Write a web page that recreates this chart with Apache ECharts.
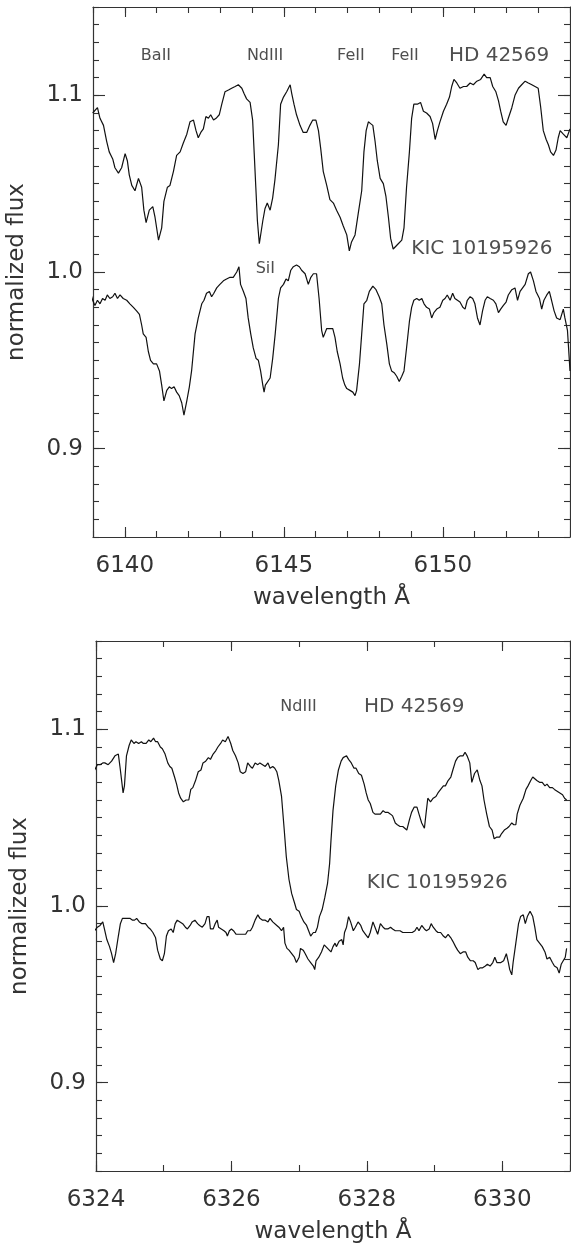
<!DOCTYPE html>
<html>
<head>
<meta charset="utf-8">
<script src="https://cdn.jsdelivr.net/npm/echarts@6/dist/echarts.min.js"></script>
<style>
html,body{margin:0;padding:0;background:#fff;}
#c{width:571px;height:1244px;}
</style>
</head>
<body>
<div id="c"></div>
<script>
// ---------------- DATA ----------------
// Panel 1 (6139-6154 A)
const topHD = [[6138.99,1.090],[6139.14,1.093],[6139.22,1.087],[6139.33,1.083],[6139.43,1.074],[6139.51,1.068],[6139.62,1.064],[6139.69,1.059],[6139.80,1.056],[6139.90,1.059],[6140.01,1.067],[6140.08,1.063],[6140.14,1.055],[6140.22,1.049],[6140.32,1.046],[6140.43,1.053],[6140.48,1.054],[6140.53,1.048],[6140.60,1.035],[6140.67,1.028],[6140.77,1.035],[6140.88,1.037],[6140.95,1.031],[6141.06,1.018],[6141.11,1.017],[6141.16,1.025],[6141.23,1.040],[6141.34,1.048],[6141.42,1.049],[6141.53,1.057],[6141.63,1.066],[6141.74,1.068],[6141.84,1.073],[6141.95,1.078],[6142.05,1.085],[6142.16,1.086],[6142.24,1.080],[6142.31,1.076],[6142.39,1.079],[6142.47,1.081],[6142.55,1.088],[6142.63,1.087],[6142.70,1.089],[6142.79,1.086],[6142.87,1.087],[6142.97,1.089],[6143.05,1.095],[6143.15,1.102],[6143.26,1.103],[6143.36,1.104],[6143.47,1.105],[6143.57,1.106],[6143.68,1.104],[6143.75,1.101],[6143.83,1.098],[6143.94,1.096],[6144.02,1.086],[6144.07,1.067],[6144.12,1.048],[6144.17,1.029],[6144.23,1.016],[6144.27,1.015],[6144.34,1.029],[6144.41,1.036],[6144.48,1.039],[6144.57,1.035],[6144.65,1.042],[6144.72,1.052],[6144.83,1.072],[6144.90,1.095],[6144.99,1.099],[6145.09,1.102],[6145.20,1.106],[6145.25,1.101],[6145.32,1.095],[6145.40,1.089],[6145.51,1.083],[6145.61,1.079],[6145.72,1.079],[6145.82,1.083],[6145.91,1.086],[6146.01,1.086],[6146.09,1.080],[6146.16,1.070],[6146.24,1.057],[6146.35,1.049],[6146.45,1.041],[6146.56,1.039],[6146.66,1.035],[6146.77,1.031],[6146.87,1.026],[6146.98,1.021],[6147.06,1.012],[6147.13,1.017],[6147.24,1.021],[6147.34,1.033],[6147.45,1.046],[6147.52,1.068],[6147.59,1.080],[6147.66,1.085],[6147.73,1.084],[6147.80,1.083],[6147.87,1.074],[6147.94,1.063],[6148.03,1.053],[6148.13,1.050],[6148.21,1.043],[6148.29,1.031],[6148.36,1.019],[6148.44,1.013],[6148.50,1.012],[6148.60,1.016],[6148.71,1.018],[6148.78,1.025],[6148.86,1.048],[6148.95,1.068],[6149.02,1.087],[6149.09,1.095],[6149.20,1.095],[6149.30,1.096],[6149.39,1.091],[6149.49,1.090],[6149.60,1.088],[6149.68,1.084],[6149.76,1.075],[6149.83,1.080],[6149.91,1.085],[6150.02,1.091],[6150.12,1.095],[6150.21,1.099],[6150.28,1.105],[6150.35,1.109],[6150.44,1.107],[6150.54,1.104],[6150.65,1.105],[6150.75,1.105],[6150.86,1.107],[6150.96,1.106],[6151.07,1.108],[6151.19,1.109],[6151.30,1.112],[6151.38,1.110],[6151.49,1.110],[6151.57,1.105],[6151.67,1.102],[6151.75,1.097],[6151.82,1.091],[6151.90,1.085],[6151.99,1.083],[6152.06,1.087],[6152.17,1.093],[6152.27,1.100],[6152.38,1.104],[6152.48,1.106],[6152.59,1.108],[6152.69,1.107],[6152.80,1.106],[6152.90,1.105],[6153.00,1.104],[6153.08,1.093],[6153.16,1.080],[6153.25,1.075],[6153.32,1.072],[6153.39,1.068],[6153.48,1.066],[6153.56,1.069],[6153.63,1.076],[6153.69,1.080],[6153.79,1.078],[6153.90,1.076],[6154.00,1.081]];

const topKIC = [[6138.91,0.989],[6138.99,0.984],[6139.06,0.981],[6139.14,0.984],[6139.22,0.982],[6139.30,0.985],[6139.38,0.984],[6139.45,0.987],[6139.53,0.985],[6139.62,0.986],[6139.69,0.988],[6139.77,0.985],[6139.85,0.987],[6139.95,0.985],[6140.06,0.984],[6140.16,0.982],[6140.27,0.980],[6140.37,0.978],[6140.46,0.976],[6140.53,0.970],[6140.58,0.965],[6140.67,0.963],[6140.74,0.955],[6140.81,0.950],[6140.90,0.948],[6141.00,0.948],[6141.09,0.944],[6141.16,0.936],[6141.23,0.927],[6141.32,0.933],[6141.40,0.935],[6141.47,0.934],[6141.55,0.935],[6141.63,0.932],[6141.71,0.930],[6141.79,0.926],[6141.86,0.919],[6141.95,0.927],[6142.03,0.935],[6142.10,0.944],[6142.21,0.965],[6142.31,0.974],[6142.42,0.982],[6142.49,0.984],[6142.57,0.988],[6142.66,0.989],[6142.73,0.986],[6142.80,0.988],[6142.89,0.991],[6142.99,0.993],[6143.10,0.995],[6143.20,0.996],[6143.31,0.997],[6143.41,0.997],[6143.52,1.000],[6143.59,1.003],[6143.64,0.993],[6143.73,0.989],[6143.81,0.985],[6143.88,0.974],[6143.96,0.965],[6144.04,0.957],[6144.13,0.951],[6144.20,0.950],[6144.27,0.944],[6144.34,0.936],[6144.38,0.932],[6144.42,0.936],[6144.48,0.937],[6144.57,0.940],[6144.65,0.951],[6144.73,0.965],[6144.83,0.985],[6144.90,0.991],[6144.99,0.993],[6145.07,0.996],[6145.14,0.995],[6145.22,1.001],[6145.30,1.003],[6145.40,1.004],[6145.49,1.003],[6145.56,1.001],[6145.67,0.999],[6145.77,0.993],[6145.85,0.997],[6145.93,0.999],[6146.03,0.999],[6146.11,0.985],[6146.19,0.967],[6146.24,0.963],[6146.35,0.968],[6146.45,0.968],[6146.54,0.968],[6146.61,0.963],[6146.68,0.955],[6146.77,0.948],[6146.85,0.940],[6146.92,0.936],[6146.98,0.934],[6147.08,0.933],[6147.17,0.932],[6147.24,0.930],[6147.29,0.933],[6147.38,0.948],[6147.45,0.965],[6147.52,0.982],[6147.61,0.984],[6147.69,0.989],[6147.80,0.992],[6147.90,0.990],[6148.00,0.986],[6148.08,0.982],[6148.15,0.970],[6148.24,0.959],[6148.32,0.948],[6148.39,0.944],[6148.47,0.943],[6148.55,0.941],[6148.63,0.938],[6148.71,0.941],[6148.78,0.944],[6148.86,0.957],[6148.95,0.972],[6149.02,0.980],[6149.09,0.984],[6149.18,0.985],[6149.26,0.984],[6149.34,0.985],[6149.41,0.982],[6149.49,0.980],[6149.58,0.979],[6149.65,0.974],[6149.72,0.977],[6149.81,0.979],[6149.91,0.980],[6150.00,0.984],[6150.07,0.985],[6150.14,0.987],[6150.23,0.984],[6150.31,0.988],[6150.38,0.985],[6150.46,0.984],[6150.54,0.983],[6150.63,0.980],[6150.70,0.979],[6150.77,0.984],[6150.86,0.986],[6150.94,0.985],[6151.01,0.982],[6151.09,0.974],[6151.17,0.970],[6151.25,0.978],[6151.33,0.984],[6151.40,0.986],[6151.49,0.985],[6151.59,0.984],[6151.67,0.982],[6151.75,0.977],[6151.82,0.979],[6151.90,0.981],[6151.99,0.983],[6152.06,0.987],[6152.17,0.990],[6152.27,0.991],[6152.35,0.984],[6152.43,0.989],[6152.51,0.991],[6152.59,0.993],[6152.69,0.999],[6152.76,1.000],[6152.85,0.995],[6152.93,0.989],[6153.04,0.985],[6153.11,0.979],[6153.18,0.984],[6153.27,0.987],[6153.35,0.989],[6153.42,0.984],[6153.50,0.978],[6153.58,0.974],[6153.69,0.973],[6153.79,0.979],[6153.84,0.974],[6153.92,0.967],[6154.00,0.944]];

// Panel 2 (6324-6331 A)
const botHD = [[6323.98,1.077],[6324.02,1.080],[6324.06,1.080],[6324.10,1.081],[6324.13,1.081],[6324.18,1.080],[6324.23,1.082],[6324.28,1.085],[6324.33,1.086],[6324.36,1.077],[6324.40,1.064],[6324.42,1.068],[6324.45,1.085],[6324.49,1.091],[6324.52,1.094],[6324.56,1.092],[6324.59,1.093],[6324.63,1.092],[6324.67,1.093],[6324.70,1.092],[6324.74,1.092],[6324.78,1.094],[6324.81,1.093],[6324.85,1.095],[6324.88,1.093],[6324.91,1.093],[6324.95,1.090],[6324.98,1.089],[6325.02,1.086],[6325.06,1.081],[6325.09,1.079],[6325.12,1.078],[6325.16,1.073],[6325.19,1.069],[6325.22,1.064],[6325.25,1.061],[6325.29,1.059],[6325.33,1.060],[6325.37,1.060],[6325.40,1.066],[6325.43,1.067],[6325.47,1.071],[6325.51,1.076],[6325.55,1.077],[6325.58,1.081],[6325.62,1.082],[6325.66,1.084],[6325.69,1.083],[6325.73,1.086],[6325.77,1.088],[6325.80,1.090],[6325.84,1.092],[6325.87,1.094],[6325.91,1.093],[6325.95,1.096],[6325.99,1.092],[6326.02,1.088],[6326.06,1.085],[6326.10,1.081],[6326.13,1.076],[6326.17,1.075],[6326.21,1.076],[6326.24,1.081],[6326.28,1.079],[6326.31,1.078],[6326.35,1.081],[6326.39,1.080],[6326.42,1.081],[6326.46,1.080],[6326.50,1.079],[6326.54,1.081],[6326.57,1.078],[6326.61,1.079],[6326.64,1.078],[6326.67,1.076],[6326.70,1.071],[6326.74,1.062],[6326.78,1.043],[6326.81,1.028],[6326.85,1.015],[6326.89,1.007],[6326.93,1.002],[6326.96,0.998],[6327.00,0.997],[6327.03,0.994],[6327.07,0.991],[6327.11,0.989],[6327.14,0.986],[6327.17,0.983],[6327.21,0.985],[6327.24,0.985],[6327.27,0.988],[6327.30,0.994],[6327.34,0.998],[6327.38,1.005],[6327.42,1.013],[6327.45,1.024],[6327.47,1.037],[6327.50,1.054],[6327.54,1.068],[6327.58,1.077],[6327.62,1.082],[6327.65,1.084],[6327.70,1.085],[6327.73,1.083],[6327.77,1.081],[6327.81,1.078],[6327.84,1.078],[6327.88,1.075],[6327.92,1.074],[6327.96,1.069],[6327.99,1.064],[6328.02,1.060],[6328.05,1.058],[6328.09,1.053],[6328.12,1.052],[6328.16,1.052],[6328.20,1.052],[6328.24,1.054],[6328.27,1.053],[6328.31,1.053],[6328.35,1.052],[6328.38,1.051],[6328.42,1.047],[6328.45,1.046],[6328.49,1.045],[6328.53,1.045],[6328.56,1.044],[6328.59,1.043],[6328.63,1.049],[6328.66,1.053],[6328.70,1.056],[6328.74,1.056],[6328.77,1.052],[6328.81,1.047],[6328.85,1.044],[6328.87,1.051],[6328.90,1.061],[6328.94,1.059],[6328.98,1.061],[6329.02,1.062],[6329.05,1.064],[6329.09,1.066],[6329.13,1.068],[6329.16,1.068],[6329.20,1.071],[6329.24,1.073],[6329.27,1.077],[6329.31,1.082],[6329.34,1.084],[6329.38,1.085],[6329.42,1.085],[6329.45,1.087],[6329.48,1.085],[6329.52,1.081],[6329.55,1.070],[6329.59,1.075],[6329.63,1.077],[6329.67,1.071],[6329.70,1.068],[6329.73,1.060],[6329.77,1.052],[6329.81,1.045],[6329.85,1.043],[6329.88,1.038],[6329.92,1.039],[6329.96,1.039],[6329.99,1.041],[6330.03,1.043],[6330.07,1.044],[6330.10,1.045],[6330.14,1.047],[6330.17,1.046],[6330.20,1.046],[6330.22,1.052],[6330.26,1.057],[6330.31,1.061],[6330.35,1.066],[6330.38,1.068],[6330.42,1.071],[6330.45,1.073],[6330.48,1.072],[6330.51,1.071],[6330.55,1.070],[6330.59,1.070],[6330.63,1.068],[6330.66,1.069],[6330.70,1.067],[6330.74,1.067],[6330.77,1.066],[6330.81,1.065],[6330.85,1.064],[6330.89,1.063],[6330.92,1.061],[6330.95,1.060]];

const botKIC = [[6323.98,0.986],[6324.02,0.988],[6324.06,0.989],[6324.10,0.991],[6324.13,0.986],[6324.16,0.981],[6324.20,0.977],[6324.23,0.973],[6324.26,0.968],[6324.29,0.973],[6324.33,0.983],[6324.36,0.990],[6324.39,0.993],[6324.42,0.993],[6324.46,0.993],[6324.50,0.993],[6324.54,0.992],[6324.57,0.992],[6324.60,0.993],[6324.62,0.994],[6324.64,0.991],[6324.68,0.990],[6324.73,0.990],[6324.77,0.988],[6324.80,0.987],[6324.84,0.985],[6324.88,0.982],[6324.91,0.975],[6324.95,0.970],[6324.98,0.969],[6325.01,0.973],[6325.04,0.983],[6325.07,0.986],[6325.11,0.987],[6325.14,0.985],[6325.17,0.990],[6325.20,0.992],[6325.24,0.991],[6325.28,0.990],[6325.32,0.988],[6325.35,0.987],[6325.39,0.989],[6325.42,0.991],[6325.46,0.992],[6325.50,0.990],[6325.53,0.989],[6325.57,0.988],[6325.61,0.990],[6325.64,0.994],[6325.67,0.994],[6325.69,0.987],[6325.73,0.987],[6325.76,0.990],[6325.79,0.992],[6325.81,0.988],[6325.85,0.987],[6325.89,0.986],[6325.92,0.985],[6325.94,0.983],[6325.97,0.986],[6326.00,0.987],[6326.03,0.986],[6326.07,0.984],[6326.11,0.984],[6326.15,0.984],[6326.18,0.984],[6326.21,0.984],[6326.24,0.986],[6326.28,0.986],[6326.31,0.988],[6326.35,0.992],[6326.39,0.995],[6326.42,0.993],[6326.46,0.992],[6326.50,0.992],[6326.54,0.991],[6326.57,0.993],[6326.61,0.991],[6326.63,0.990],[6326.67,0.989],[6326.70,0.988],[6326.74,0.986],[6326.77,0.988],[6326.79,0.979],[6326.82,0.976],[6326.85,0.975],[6326.89,0.973],[6326.93,0.971],[6326.96,0.968],[6327.00,0.971],[6327.02,0.976],[6327.06,0.975],[6327.09,0.973],[6327.13,0.970],[6327.17,0.968],[6327.21,0.966],[6327.23,0.964],[6327.25,0.969],[6327.29,0.971],[6327.33,0.974],[6327.37,0.978],[6327.42,0.976],[6327.47,0.974],[6327.50,0.977],[6327.53,0.979],[6327.55,0.977],[6327.59,0.980],[6327.63,0.981],[6327.65,0.978],[6327.67,0.985],[6327.70,0.988],[6327.73,0.994],[6327.76,0.991],[6327.80,0.986],[6327.83,0.988],[6327.87,0.991],[6327.91,0.989],[6327.94,0.986],[6327.98,0.984],[6328.02,0.982],[6328.05,0.985],[6328.09,0.991],[6328.12,0.988],[6328.16,0.984],[6328.20,0.990],[6328.24,0.988],[6328.27,0.987],[6328.31,0.987],[6328.35,0.988],[6328.38,0.987],[6328.42,0.986],[6328.45,0.986],[6328.49,0.986],[6328.53,0.985],[6328.56,0.985],[6328.60,0.985],[6328.64,0.985],[6328.67,0.985],[6328.71,0.986],[6328.74,0.988],[6328.77,0.986],[6328.81,0.989],[6328.85,0.987],[6328.88,0.986],[6328.92,0.987],[6328.95,0.990],[6328.98,0.988],[6329.02,0.986],[6329.05,0.985],[6329.09,0.985],[6329.13,0.983],[6329.16,0.982],[6329.20,0.984],[6329.24,0.982],[6329.27,0.980],[6329.31,0.977],[6329.34,0.975],[6329.38,0.973],[6329.42,0.974],[6329.46,0.974],[6329.49,0.971],[6329.53,0.969],[6329.57,0.969],[6329.60,0.968],[6329.64,0.964],[6329.67,0.965],[6329.71,0.965],[6329.75,0.966],[6329.78,0.967],[6329.82,0.966],[6329.86,0.968],[6329.89,0.971],[6329.92,0.968],[6329.94,0.968],[6329.98,0.968],[6330.02,0.969],[6330.06,0.973],[6330.09,0.968],[6330.11,0.964],[6330.14,0.961],[6330.16,0.968],[6330.20,0.979],[6330.24,0.990],[6330.27,0.994],[6330.31,0.995],[6330.34,0.990],[6330.37,0.994],[6330.41,0.997],[6330.45,0.994],[6330.48,0.988],[6330.51,0.981],[6330.55,0.979],[6330.59,0.977],[6330.63,0.974],[6330.66,0.970],[6330.70,0.971],[6330.74,0.968],[6330.77,0.966],[6330.81,0.965],[6330.84,0.962],[6330.87,0.967],[6330.90,0.969],[6330.93,0.971],[6330.95,0.976]];

// Axis ranges and ticks
const topRange = [6139, 6154];
const botRange = [6324, 6331];
const topMajorTicks = [6140, 6145, 6150];
const botMajorTicks = [6324, 6326, 6328, 6330];
const topMinorStep = 1;
const botMinorStep = 1;
const fluxRange = [0.85, 1.15];
const fluxMajorTicks = [0.9, 1.0, 1.1];
const fluxMinorStep = 0.01;

// Annotations
const topLineNames = ['BaII', 'NdIII', 'FeII', 'FeII', 'SiI'];
const topLinePos = [[6140.98, 1.1222], [6144.41, 1.1222], [6147.11, 1.1222], [6148.81, 1.1222], [6144.42, 1.002]];
const topStarNames = ['HD 42569', 'KIC 10195926'];
const topStarPos = [[6151.77, 1.1225], [6151.23, 1.013]];
const botLineNames = ['NdIII'];
const botLinePos = [[6326.99, 1.1129]];
const botStarNames = ['HD 42569', 'KIC 10195926'];
const botStarPos = [[6328.70, 1.1129], [6329.04, 1.013]];

// ---------------- CHART ----------------
const FONT = 'DejaVu Sans';
const AX = '#333';
const TXT = '#333';

function xAxesFor(grid, range, majors, minorStep) {
  const base = {type: 'value', gridIndex: grid, min: range[0], max: range[1], splitLine: {show: false}};
  const line = {show: true, onZero: false, lineStyle: {color: AX, width: 1.2}};
  const tickStyle = {color: AX, width: 1.1};
  return [
    Object.assign({}, base, {position: 'bottom', axisLine: line,
      axisTick: {show: true, inside: true, length: 10, customValues: majors, lineStyle: tickStyle},
      axisLabel: {show: true, customValues: majors, fontSize: 23, color: TXT, fontFamily: FONT, margin: 18,
        formatter: v => String(Math.round(v))},
      name: 'wavelength Å', nameLocation: 'middle', nameGap: 50,
      nameTextStyle: {fontSize: 23, color: TXT, fontFamily: FONT}}),
    Object.assign({}, base, {position: 'bottom', interval: minorStep, axisLine: {show: false, onZero: false},
      axisTick: {show: true, inside: true, length: 6, lineStyle: tickStyle}, axisLabel: {show: false}}),
    Object.assign({}, base, {position: 'top', axisLine: line,
      axisTick: {show: true, inside: true, length: 10, customValues: majors, lineStyle: tickStyle},
      axisLabel: {show: false}}),
    Object.assign({}, base, {position: 'top', interval: minorStep, axisLine: {show: false, onZero: false},
      axisTick: {show: true, inside: true, length: 6, lineStyle: tickStyle}, axisLabel: {show: false}})
  ];
}

function yAxesFor(grid) {
  const base = {type: 'value', gridIndex: grid, min: fluxRange[0], max: fluxRange[1], splitLine: {show: false}};
  const line = {show: true, onZero: false, lineStyle: {color: AX, width: 1.2}};
  const tickStyle = {color: AX, width: 1.1};
  return [
    Object.assign({}, base, {position: 'left', axisLine: line,
      axisTick: {show: true, inside: true, length: 12, customValues: fluxMajorTicks, lineStyle: tickStyle},
      axisLabel: {show: true, customValues: fluxMajorTicks, fontSize: 23, color: TXT, fontFamily: FONT, margin: 10,
        formatter: v => Number(v).toFixed(1)},
      name: 'normalized flux', nameLocation: 'middle', nameGap: 64,
      nameTextStyle: {fontSize: 23, color: TXT, fontFamily: FONT}}),
    Object.assign({}, base, {position: 'left', interval: fluxMinorStep, axisLine: {show: false, onZero: false},
      axisTick: {show: true, inside: true, length: 6, lineStyle: tickStyle}, axisLabel: {show: false}}),
    Object.assign({}, base, {position: 'right', axisLine: line,
      axisTick: {show: true, inside: true, length: 12, customValues: fluxMajorTicks, lineStyle: tickStyle},
      axisLabel: {show: false}}),
    Object.assign({}, base, {position: 'right', interval: fluxMinorStep, axisLine: {show: false, onZero: false},
      axisTick: {show: true, inside: true, length: 6, lineStyle: tickStyle}, axisLabel: {show: false}})
  ];
}

function spectrum(data, axisIdx) {
  return {type: 'line', data: data, xAxisIndex: axisIdx, yAxisIndex: axisIdx, showSymbol: false, symbol: 'none',
    smooth: false, clip: true, silent: true, animation: false,
    lineStyle: {color: '#111', width: 1.2}};
}

function labels(names, pos, axisIdx, size) {
  return {type: 'scatter', xAxisIndex: axisIdx, yAxisIndex: axisIdx, symbolSize: 1, silent: true, animation: false,
    itemStyle: {color: 'rgba(0,0,0,0)'},
    data: names.map((n, i) => ({name: n, value: pos[i]})),
    label: {show: true, position: 'inside', formatter: '{b}', fontSize: size, color: '#222', fontFamily: FONT}};
}

const option = {
  backgroundColor: '#fff',
  animation: false,
  grid: [
    {left: 93, top: 7, width: 477, height: 530, containLabel: false, outerBoundsMode: 'none'},
    {left: 96, top: 641, width: 474, height: 530, containLabel: false, outerBoundsMode: 'none'}
  ],
  xAxis: [].concat(xAxesFor(0, topRange, topMajorTicks, topMinorStep), xAxesFor(1, botRange, botMajorTicks, botMinorStep)),
  yAxis: [].concat(yAxesFor(0), yAxesFor(1)),
  series: [
    spectrum(topHD, 0),
    spectrum(topKIC, 0),
    spectrum(botHD, 4),
    spectrum(botKIC, 4),
    labels(topLineNames, topLinePos, 0, 16),
    labels(topStarNames, topStarPos, 0, 20),
    labels(botLineNames, botLinePos, 4, 16),
    labels(botStarNames, botStarPos, 4, 20)
  ]
};

const chart = echarts.init(document.getElementById('c'), null, {renderer: 'canvas', width: 571, height: 1244});
chart.setOption(option);
</script>
</body>
</html>
